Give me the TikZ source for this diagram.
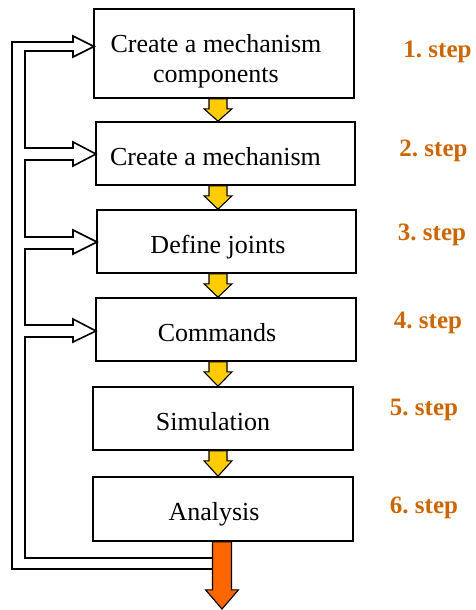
\documentclass[tikz,border=0pt]{standalone}
\usepackage{fontspec}
\setmainfont{Liberation Serif}
\usetikzlibrary{calc}
\definecolor{flowyellow}{RGB}{255,204,0}
\definecolor{floworange}{RGB}{255,102,0}
\definecolor{steporange}{RGB}{204,102,0}
\frenchspacing

\begin{document}
\begin{tikzpicture}[x=1pt, y=-1pt,
    box/.style={draw, line width=1.6pt, minimum width=259pt, minimum height=63pt, inner sep=0pt},
    boxtext/.style={anchor=base, font=\fontsize{26}{30}\selectfont, align=center},
    steplab/.style={anchor=base, text=steporange, font=\fontsize{25}{30}\selectfont\bfseries},
    flow/.style={draw, line width=1.1pt, fill=flowyellow, line join=miter},
    feedback/.style={draw, line width=1.6pt, line join=miter}]
    \useasboundingbox (0,0) rectangle (476,610);
    % process boxes
    \node[box, minimum width=260pt, minimum height=89pt] (s1) at (224,53.5) {};
    \node[box] (s2) at (225.5,153.5) {};
    \node[box] (s3) at (226.5,241.5) {};
    \node[box, minimum width=260pt] (s4) at (226,329.5) {};
    \node[box, minimum width=260pt] (s5) at (223,418.5) {};
    \node[box, minimum width=260pt, minimum height=64pt] (s6) at (223,509) {};
    % box texts
    \node[boxtext] (t1) at (216,82) {Create a mechanism\\components};
    \node[boxtext] (t2) at (215.5,165) {Create a mechanism};
    \node[boxtext] (t3) at (218,253) {Define joints};
    \node[boxtext] (t4) at (217,341) {Commands};
    \node[boxtext] (t5) at (213,430) {Simulation};
    \node[boxtext] (t6) at (214,520) {Analysis};
    % step labels
    \node[steplab] (l1) at (437.5,57) {1. step};
    \node[steplab] (l2) at (433.5,156) {2. step};
    \node[steplab] (l3) at (432,240) {3. step};
    \node[steplab] (l4) at (428,328) {4. step};
    \node[steplab] (l5) at (424,415) {5. step};
    \node[steplab] (l6) at (424,513) {6. step};
    % yellow arrows between the boxes
    \coordinate (flowx) at (218,0);
    \foreach \a/\b in {s1/s2,s2/s3,s3/s4,s4/s5,s5/s6} {
        \coordinate (top) at (\a.south -| flowx);
        \coordinate (tip) at (\b.north -| flowx);
        \filldraw[flow] ($(top)+(-9,0)$) -- ($(top)+(9,0)$) -- ($(top)+(9,10)$)
            -- ($(top)+(14,10)$) -- (tip) -- ($(top)+(-14,10)$) -- ($(top)+(-9,10)$) -- cycle;
    }
    % feedback loop with hollow arrows
    \draw[feedback] (212,558) -- (25,558) -- (25,337) -- (73,337) -- (73,342) -- (96,331)
        -- (73,319) -- (73,325) -- (25,325) -- (25,249) -- (73,249) -- (73,254) -- (97,242)
        -- (73,230) -- (73,237) -- (25,237) -- (25,160) -- (73,160) -- (73,166) -- (96,154)
        -- (73,142) -- (73,148) -- (25,148) -- (25,51) -- (73,51) -- (73,57) -- (94,46.5)
        -- (73,36) -- (73,42) -- (12,42) -- (12,569) -- (212,569);
    % output arrow
    \coordinate (out) at (222,609);
    \coordinate (outtop) at (s6.south -| out);
    \filldraw[flow, fill=floworange] ($(outtop)+(-9.5,0)$) -- ($(outtop)+(9.5,0)$)
        -- ($(outtop)+(9.5,48)$) -- ($(outtop)+(16.5,48)$) -- (out)
        -- ($(outtop)+(-16.5,48)$) -- ($(outtop)+(-9.5,48)$) -- cycle;
\end{tikzpicture}
\end{document}
